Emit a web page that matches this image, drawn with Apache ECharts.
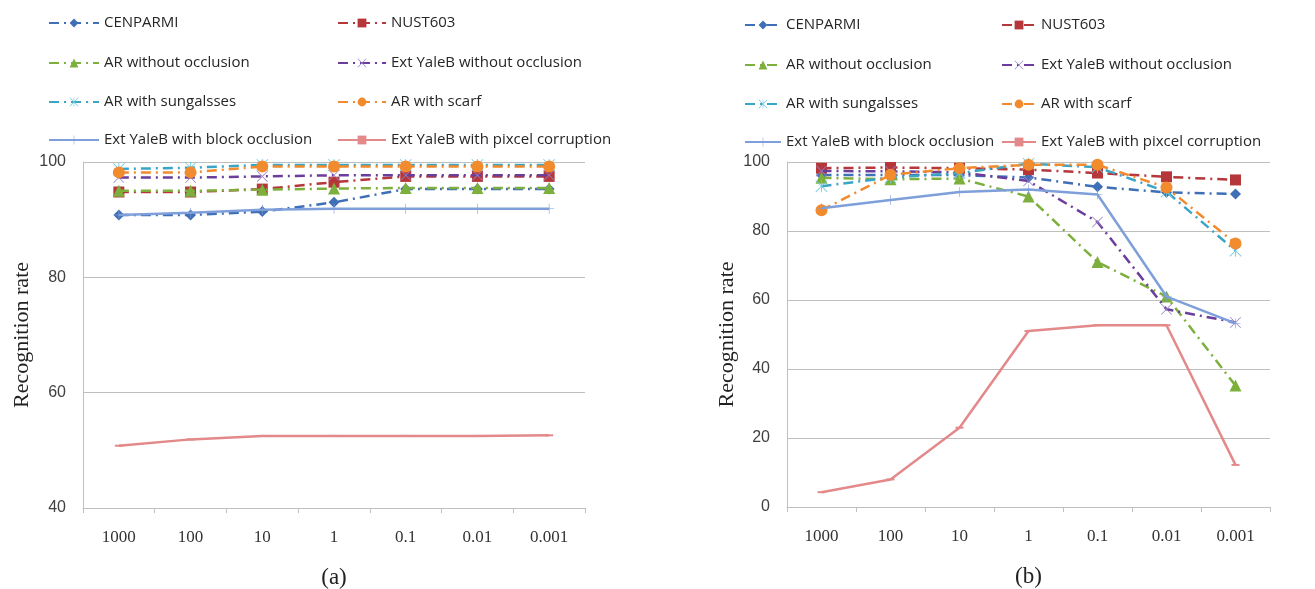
<!DOCTYPE html>
<html>
<head>
<meta charset="utf-8">
<script src="https://cdn.jsdelivr.net/npm/echarts@6/dist/echarts.min.js"></script>
<style>
html,body{margin:0;padding:0;background:#fff;}
#chart{width:1315px;height:589px;}
</style>
</head>
<body>
<div id="chart"></div>
<script>
// ---- data ----
const categories = ['1000', '100', '10', '1', '0.1', '0.01', '0.001'];
const seriesNames = ['CENPARMI', 'NUST603', 'AR without occlusion', 'Ext YaleB without occlusion',
  'AR with sungalsses', 'AR with scarf', 'Ext YaleB with block occlusion', 'Ext YaleB with pixcel corruption'];
const yTicksA = [40, 60, 80, 100];
const yTicksB = [0, 20, 40, 60, 80, 100];

// panel (a)
const cenparmiA   = [90.8, 90.8, 91.4, 93.0, 95.3, 95.3, 95.3];
const nustA       = [94.8, 94.8, 95.3, 96.5, 97.5, 97.5, 97.5];
const arNoOccA    = [95.0, 95.0, 95.2, 95.4, 95.5, 95.5, 95.5];
const yaleNoOccA  = [97.3, 97.3, 97.5, 97.7, 97.7, 97.7, 97.7];
const sunglassesA = [98.8, 99.0, 99.5, 99.5, 99.5, 99.5, 99.5];
const scarfA      = [98.2, 98.2, 99.2, 99.2, 99.2, 99.2, 99.2];
const blockA      = [90.8, 91.2, 91.7, 91.9, 91.9, 91.9, 91.9];
const pixelA      = [50.8, 51.9, 52.5, 52.5, 52.5, 52.5, 52.6];

// panel (b)
const cenparmiB   = [96.2, 96.2, 96.2, 95.5, 92.8, 91.2, 90.7];
const nustB       = [98.2, 98.4, 98.2, 97.8, 96.8, 95.7, 94.8];
const arNoOccB    = [95.4, 95.0, 95.2, 90.0, 71.0, 61.0, 35.2];
const yaleNoOccB  = [97.4, 97.3, 97.0, 94.5, 82.6, 57.3, 53.5];
const sunglassesB = [93.0, 95.5, 96.8, 99.5, 98.5, 91.4, 74.3];
const scarfB      = [86.0, 96.3, 98.2, 99.2, 99.2, 92.6, 76.4];
const blockB      = [86.6, 89.0, 91.3, 92.0, 90.6, 61.0, 53.2];
const pixelB      = [4.3, 8.0, 23.0, 51.0, 52.7, 52.7, 12.2];

const dataA = [cenparmiA, nustA, arNoOccA, yaleNoOccA, sunglassesA, scarfA, blockA, pixelA];
const dataB = [cenparmiB, nustB, arNoOccB, yaleNoOccB, sunglassesB, scarfB, blockB, pixelB];

// ---- styles ----
const X_PATH = 'path://M0,1 L1,0 L10,9 L19,0 L20,1 L11,10 L20,19 L19,20 L10,11 L1,20 L0,19 L9,10 Z';
const STAR_PATH = 'path://M0,1 L1,0 L10,9 L19,0 L20,1 L11,10 L20,19 L19,20 L10,11 L1,20 L0,19 L9,10 Z M9.3,0 L10.7,0 L10.7,20 L9.3,20 Z';
const PLUS_PATH = 'path://M9.4,0 L10.6,0 L10.6,9.4 L20,9.4 L20,10.6 L10.6,10.6 L10.6,20 L9.4,20 L9.4,10.6 L0,10.6 L0,9.4 L9.4,9.4 Z';
const dashDot = [10, 5, 2, 5];
const styles = [
  {line: '#3F6FB6', mark: '#3F6FB6', symbol: 'diamond', size: 11, dash: dashDot},
  {line: '#B5373A', mark: '#B5373A', symbol: 'rect', size: 11, dash: dashDot},
  {line: '#7DAF3D', mark: '#7DAF3D', symbol: 'triangle', size: 12, dash: dashDot},
  {line: '#6B3E9E', mark: '#9A80C8', symbol: X_PATH, size: 11, dash: dashDot},
  {line: '#3AA5C5', mark: '#6FC8E0', symbol: STAR_PATH, size: 12, dash: dashDot},
  {line: '#F28A2E', mark: '#F28A2E', symbol: 'circle', size: 12, dash: dashDot},
  {line: '#7F9FDA', mark: '#7F9FDA', symbol: PLUS_PATH, size: 10, dash: 'solid'},
  {line: '#E3898A', mark: '#E3898A', symbol: 'rect', size: [8, 2], dash: 'solid'}
];

function buildSeries(data, idx) {
  return seriesNames.map((name, i) => ({
    name: name,
    type: 'line',
    xAxisIndex: idx,
    yAxisIndex: idx,
    data: data[i],
    symbol: styles[i].symbol,
    symbolSize: styles[i].size,
    showAllSymbol: true,
    animation: false,
    lineStyle: {color: styles[i].line, width: 2.5, type: styles[i].dash},
    itemStyle: {color: styles[i].mark},
    z: 2 + i
  }));
}

// legends: one component per item, two columns of four rows per panel
const legendLayout = [
  {colX: [43, 332], iconW: 48, rows: [18, 58, 97, 135]},
  {colX: [739, 996], iconW: 34, rows: [20, 60, 99, 137]}
];
const legends = [];
legendLayout.forEach(L => {
  seriesNames.forEach((name, i) => {
    const col = i % 2, row = Math.floor(i / 2);
    legends.push({
      data: [name],
      left: L.colX[col],
      top: L.rows[row] - 9,
      itemWidth: col === 0 ? L.iconW + 2 : L.iconW,
      itemHeight: 11,
      itemGap: 4,
      selectedMode: false,
      textStyle: {fontFamily: 'Open Sans', fontSize: 15, color: '#262626', lineHeight: 18}
    });
  });
});

const axisGray = '#BFBFBF';
function xAxisFor(idx, label) {
  return {
    type: 'category',
    gridIndex: idx,
    data: categories,
    boundaryGap: true,
    axisLine: {lineStyle: {color: axisGray, width: 1}},
    axisTick: {show: true, alignWithLabel: false, length: 5, lineStyle: {color: axisGray}},
    axisLabel: {fontFamily: 'Liberation Serif', fontSize: 17, color: '#333', margin: 21},
    name: label,
    nameLocation: 'middle',
    nameGap: 58,
    nameTextStyle: {fontFamily: 'Liberation Serif', fontSize: 23, color: '#222'}
  };
}
function yAxisFor(idx, min, gap) {
  return {
    type: 'value',
    gridIndex: idx,
    min: min, max: 100, interval: 20,
    axisLine: {show: true, lineStyle: {color: axisGray, width: 1}},
    axisTick: {show: false},
    splitLine: {show: true, lineStyle: {color: axisGray, width: 1}},
    axisLabel: {fontFamily: 'Liberation Sans', fontSize: 16, color: '#404040', margin: 17},
    name: 'Recognition rate',
    nameLocation: 'middle',
    nameGap: gap,
    nameTextStyle: {fontFamily: 'Liberation Serif', fontSize: 22, color: '#222'}
  };
}

const option = {
  backgroundColor: '#ffffff',
  animation: false,
  legend: legends,
  grid: [
    {left: 83, top: 162, width: 502, height: 346, containLabel: false, outerBoundsMode: 'none'},
    {left: 787, top: 162, width: 483, height: 345, containLabel: false, outerBoundsMode: 'none'}
  ],
  xAxis: [xAxisFor(0, '(a)'), xAxisFor(1, '(b)')],
  yAxis: [yAxisFor(0, yTicksA[0], 50), yAxisFor(1, yTicksB[0], 49)],
  series: buildSeries(dataA, 0).concat(buildSeries(dataB, 1))
};

const chart = echarts.init(document.getElementById('chart'), null, {renderer: 'canvas'});
chart.setOption(option);
</script>
</body>
</html>
